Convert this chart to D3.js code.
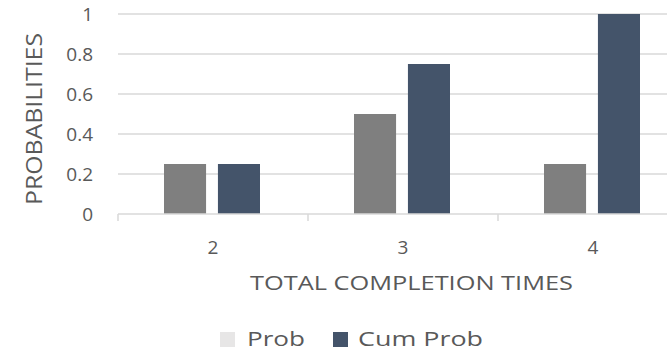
<!DOCTYPE html>
<html>
<head>
<meta charset="utf-8">
<script src="https://cdn.jsdelivr.net/npm/d3@7"></script>
<style>
  html, body { margin: 0; padding: 0; background: #fff; }
  svg { display: block; }
  text { font-family: "Open Sans", sans-serif; fill: #595959; }
</style>
</head>
<body>
<svg id="chart" width="667" height="352"></svg>
<script>
const categories = ["2", "3", "4"];
const seriesNames = ["Prob", "Cum Prob"];
const probValues = [0.25, 0.5, 0.25];
const cumProbValues = [0.25, 0.75, 1.0];
const yTickValues = [0, 0.2, 0.4, 0.6, 0.8, 1];
const yTickLabels = ["0", "0.2", "0.4", "0.6", "0.8", "1"];
const xTitle = "TOTAL COMPLETION TIMES";
const yTitle = "PROBABILITIES";

const colors = { "Prob": "#7f7f7f", "Cum Prob": "#44546a" };
const legendColors = { "Prob": "#e7e6e6", "Cum Prob": "#44546a" };

const svg = d3.select("#chart");

const x = d3.scaleBand().domain(categories).range([118, 688]).padding(0);
const xInner = d3.scaleBand().domain(seriesNames).range([46, 142]).paddingInner(0.22).paddingOuter(0);
const y = d3.scaleLinear().domain([0, 1]).range([214, 14]);

// gridlines
svg.append("g").selectAll("line").data(yTickValues.filter(v => v > 0)).join("line")
  .attr("x1", 118).attr("x2", 688)
  .attr("y1", d => y(d)).attr("y2", d => y(d))
  .attr("stroke", "#d9d9d9").attr("stroke-width", 1.5);

// bars
const rows = categories.map((c, i) => ({ cat: c, vals: [
  { s: "Prob", v: probValues[i] },
  { s: "Cum Prob", v: cumProbValues[i] }
]}));

svg.append("g").selectAll("g").data(rows).join("g")
  .attr("transform", d => `translate(${x(d.cat)},0)`)
  .selectAll("rect").data(d => d.vals).join("rect")
  .attr("x", d => xInner(d.s))
  .attr("width", xInner.bandwidth())
  .attr("y", d => y(d.v))
  .attr("height", d => y(0) - y(d.v))
  .attr("fill", d => colors[d.s]);

// x axis
const xAxisG = svg.append("g").attr("transform", `translate(0,${y(0)})`);
xAxisG.append("line").attr("x1", 118).attr("x2", 688).attr("y1", 0).attr("y2", 0)
  .attr("stroke", "#d9d9d9").attr("stroke-width", 1.5);
xAxisG.selectAll("line.tick").data(categories.concat(["__end"])).join("line")
  .attr("class", "tick")
  .attr("x1", (d, i) => i < categories.length ? x(d) : x.range()[1])
  .attr("x2", (d, i) => i < categories.length ? x(d) : x.range()[1])
  .attr("y1", 0).attr("y2", 7)
  .attr("stroke", "#d9d9d9").attr("stroke-width", 1.5);
xAxisG.selectAll("text").data(categories).join("text")
  .attr("x", d => x(d) + x.bandwidth() / 2)
  .attr("y", 40)
  .attr("text-anchor", "middle")
  .attr("font-size", 19)
  .text(d => d);

// y axis labels
svg.append("g").selectAll("text").data(yTickValues).join("text")
  .attr("x", 93)
  .attr("y", d => y(d))
  .attr("dy", "0.35em")
  .attr("text-anchor", "end")
  .attr("font-size", 19)
  .text((d, i) => yTickLabels[i]);

// axis titles
svg.append("text")
  .attr("x", 411.5).attr("y", 290)
  .attr("text-anchor", "middle")
  .attr("font-size", 20)
  .attr("textLength", 323).attr("lengthAdjust", "spacingAndGlyphs")
  .text(xTitle);

svg.append("text")
  .attr("transform", "translate(42,119) rotate(-90)")
  .attr("text-anchor", "middle")
  .attr("font-size", 22)
  .attr("textLength", 172).attr("lengthAdjust", "spacingAndGlyphs")
  .text(yTitle);

// legend
const legendItems = [
  { s: "Prob", sx: 220, tx: 247, len: 58 },
  { s: "Cum Prob", sx: 333, tx: 358, len: 125 }
];
const lg = svg.append("g");
lg.selectAll("rect").data(legendItems).join("rect")
  .attr("x", d => d.sx).attr("y", 332).attr("width", 15).attr("height", 15)
  .attr("fill", d => legendColors[d.s]);
lg.selectAll("text").data(legendItems).join("text")
  .attr("x", d => d.tx).attr("y", 346)
  .attr("font-size", 20)
  .attr("textLength", d => d.len).attr("lengthAdjust", "spacingAndGlyphs")
  .text(d => d.s);
</script>
</body>
</html>
